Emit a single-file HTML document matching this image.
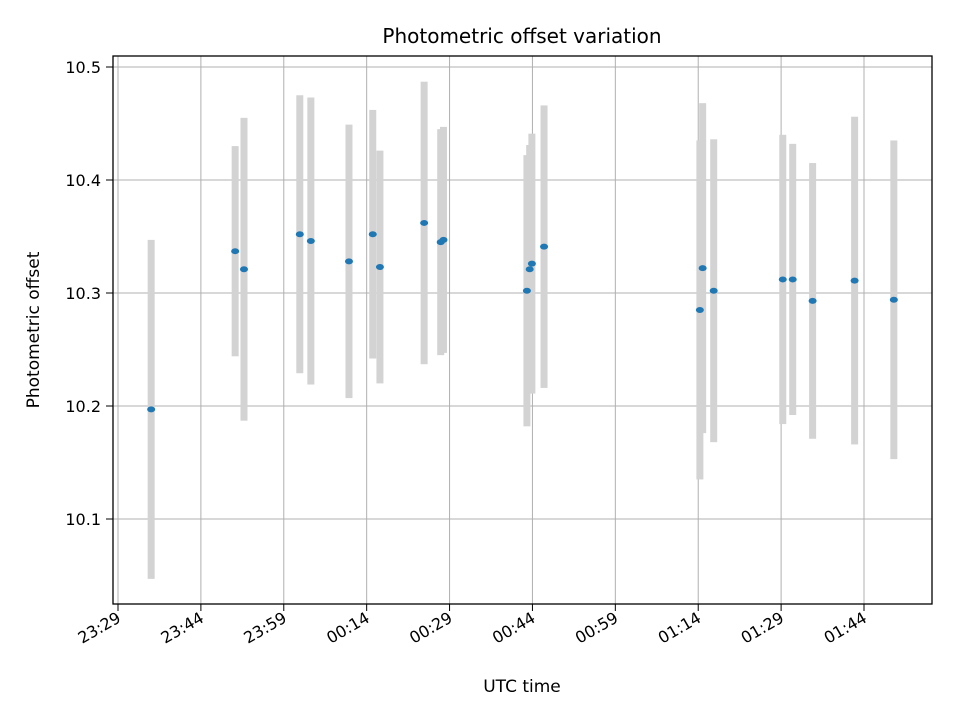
<!DOCTYPE html>
<html><head><meta charset="utf-8"><style>
body{margin:0;background:#fff;font-family:"DejaVu Sans","Liberation Sans",sans-serif}
</style></head><body>
<svg width="960" height="720" viewBox="0 0 960 720" id="c">
<rect x="0" y="0" width="960" height="720" fill="#fff"/>
<text x="522" y="43" text-anchor="middle" font-size="20">Photometric offset variation</text>
<text x="522" y="692" text-anchor="middle" font-size="17">UTC time</text>
<text transform="translate(39,330) rotate(-90)" text-anchor="middle" font-size="17">Photometric offset</text>
<g id="grid"></g><g id="bars"></g><g id="pts"></g><g id="ticks"></g>
<rect x="113" y="56" width="819" height="548" fill="none" stroke="#000" stroke-width="1.3"/>
</svg>
<script>
const xMinutes=[6.0,21.2,22.8,32.9,34.9,41.8,46.1,47.4,55.4,58.4,58.9,74.0,74.5,74.9,77.1,105.3,105.8,107.8,120.3,122.1,125.7,133.3,140.4];
const yValues=[10.197,10.337,10.321,10.352,10.346,10.328,10.352,10.323,10.362,10.345,10.347,10.302,10.321,10.326,10.341,10.285,10.322,10.302,10.312,10.312,10.293,10.311,10.294];
const yErrors=[0.15,0.093,0.134,0.123,0.127,0.121,0.11,0.103,0.125,0.1,0.1,0.12,0.11,0.115,0.125,0.15,0.146,0.134,0.128,0.12,0.122,0.145,0.141];
const xTickMinutes=[0,15,30,45,60,75,90,105,120,135];
const xTickLabels=["23:29","23:44","23:59","00:14","00:29","00:44","00:59","01:14","01:29","01:44"];
const yTicks=[10.1,10.2,10.3,10.4,10.5];
const X=m=>118+m*(746/135);
const Y=v=>67+(10.5-v)*1130;
const NS="http://www.w3.org/2000/svg";
function mk(tag,attrs,parent){const e=document.createElementNS(NS,tag);for(const k in attrs)e.setAttribute(k,attrs[k]);document.getElementById(parent).appendChild(e);return e;}
xTickMinutes.forEach((m,i)=>{
 const x=X(m);
 const g=mk('line',{x1:x,x2:x,y1:56,y2:604,stroke:'#b0b0b0','stroke-width':1},'grid');
 
 
 const t=mk('line',{x1:x,x2:x,y1:604,y2:611,stroke:'#000','stroke-width':1},'ticks');
 
 
 const l=mk('text',{transform:`translate(${x+4},${621}) rotate(-30)`,'text-anchor':'end','font-size':16},'ticks');
 l.textContent=xTickLabels[i];
 
 
});
yTicks.forEach(v=>{
 const y=Y(v);
 const g=mk('line',{x1:113,x2:932,y1:y,y2:y,stroke:'#b0b0b0','stroke-width':1},'grid');
 
 
 const t=mk('line',{x1:106,x2:113,y1:y,y2:y,stroke:'#000','stroke-width':1},'ticks');
 
 
 const l=mk('text',{x:101,y:y+6,'text-anchor':'end','font-size':16},'ticks');
 l.textContent=v.toFixed(1);
 
 
});
xMinutes.forEach((m,i)=>{
 const x=X(m),y1=Y(yValues[i]+yErrors[i]),y2=Y(yValues[i]-yErrors[i]);
 const b=mk('rect',{x:x-3.5,y:y1,width:7,height:y2-y1,fill:'#d3d3d3'},'bars');
 
 
});
xMinutes.forEach((m,i)=>{
 const p=mk('ellipse',{cx:X(m),cy:Y(yValues[i]),rx:4,ry:3,fill:'#1f77b4'},'pts');
 
 
});
</script>
</body></html>
